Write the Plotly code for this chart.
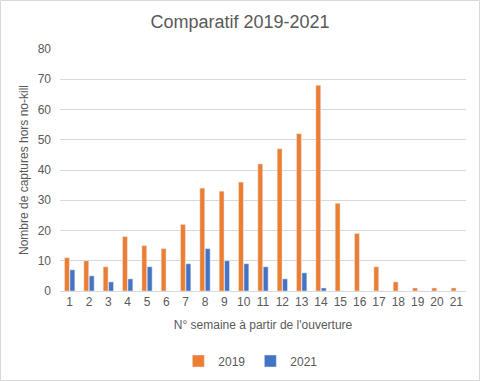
import plotly.graph_objects as go

weeks = [str(i) for i in range(1, 22)]
v2019 = [11, 10, 8, 18, 15, 14, 22, 34, 33, 36, 42, 47, 52, 68, 29, 19, 8, 3, 1, 1, 1]
v2021 = [7, 5, 3, 4, 8, 0, 9, 14, 10, 9, 8, 4, 6, 1, 0, 0, 0, 0, 0, 0, 0]
y_ticks = [0, 10, 20, 30, 40, 50, 60, 70, 80]

FONT = "Liberation Sans"
GRAY = "#595959"

fig = go.Figure()
fig.add_trace(go.Bar(x=weeks, y=v2019, name="2019", marker_color="#ED7D31"))
fig.add_trace(go.Bar(x=weeks, y=v2021, name="2021", marker_color="#4472C4"))

L, R, T, B = 60, 14, 49, 90
W, H = 480, 381
pw, ph = W - L - R, H - T - B

fig.update_layout(
    width=W, height=H,
    margin=dict(l=L, r=R, t=T, b=B, autoexpand=False),
    paper_bgcolor="white", plot_bgcolor="white",
    barmode="group", bargap=0.44, bargroupgap=0.1,
    font=dict(family=FONT, color=GRAY, size=12),
    title=dict(text="Comparatif 2019-2021", x=0.5, xanchor="center",
               y=1 - 22 / H, yanchor="middle",
               font=dict(size=18, color=GRAY, family=FONT)),
    legend=dict(orientation="h", x=0.47, xanchor="center",
                y=-(361 - (H - B)) / ph, yanchor="middle",
                font=dict(size=12, color=GRAY), itemwidth=30,
                tracegroupgap=0, traceorder="normal"),
    xaxis=dict(type="category", showgrid=False, showline=True,
               linecolor="#D9D9D9", linewidth=1, ticks="",
               tickfont=dict(size=12, color=GRAY),
               title=dict(text="N° semaine à partir de l'ouverture",
                          font=dict(size=12, color=GRAY), standoff=12)),
    yaxis=dict(range=[0, 80], tickvals=y_ticks, showgrid=True,
               gridcolor="#D9D9D9", gridwidth=1, zeroline=False,
               showline=False, ticks="", ticklabelstandoff=8,
               tickfont=dict(size=12, color=GRAY),
               title=dict(text="Nombre de captures hors no-kill",
                          font=dict(size=12, color=GRAY), standoff=6)),
    shapes=[dict(type="rect", xref="paper", yref="paper",
                 x0=-(L - 0.5) / pw, x1=1 + (R - 0.5) / pw,
                 y0=-(B - 0.5) / ph, y1=1 + (T - 0.5) / ph,
                 line=dict(color="#D9D9D9", width=1), layer="below")],
)

fig.write_html("out.html", config={"displayModeBar": False},
               post_script="document.body.style.margin='0';")
